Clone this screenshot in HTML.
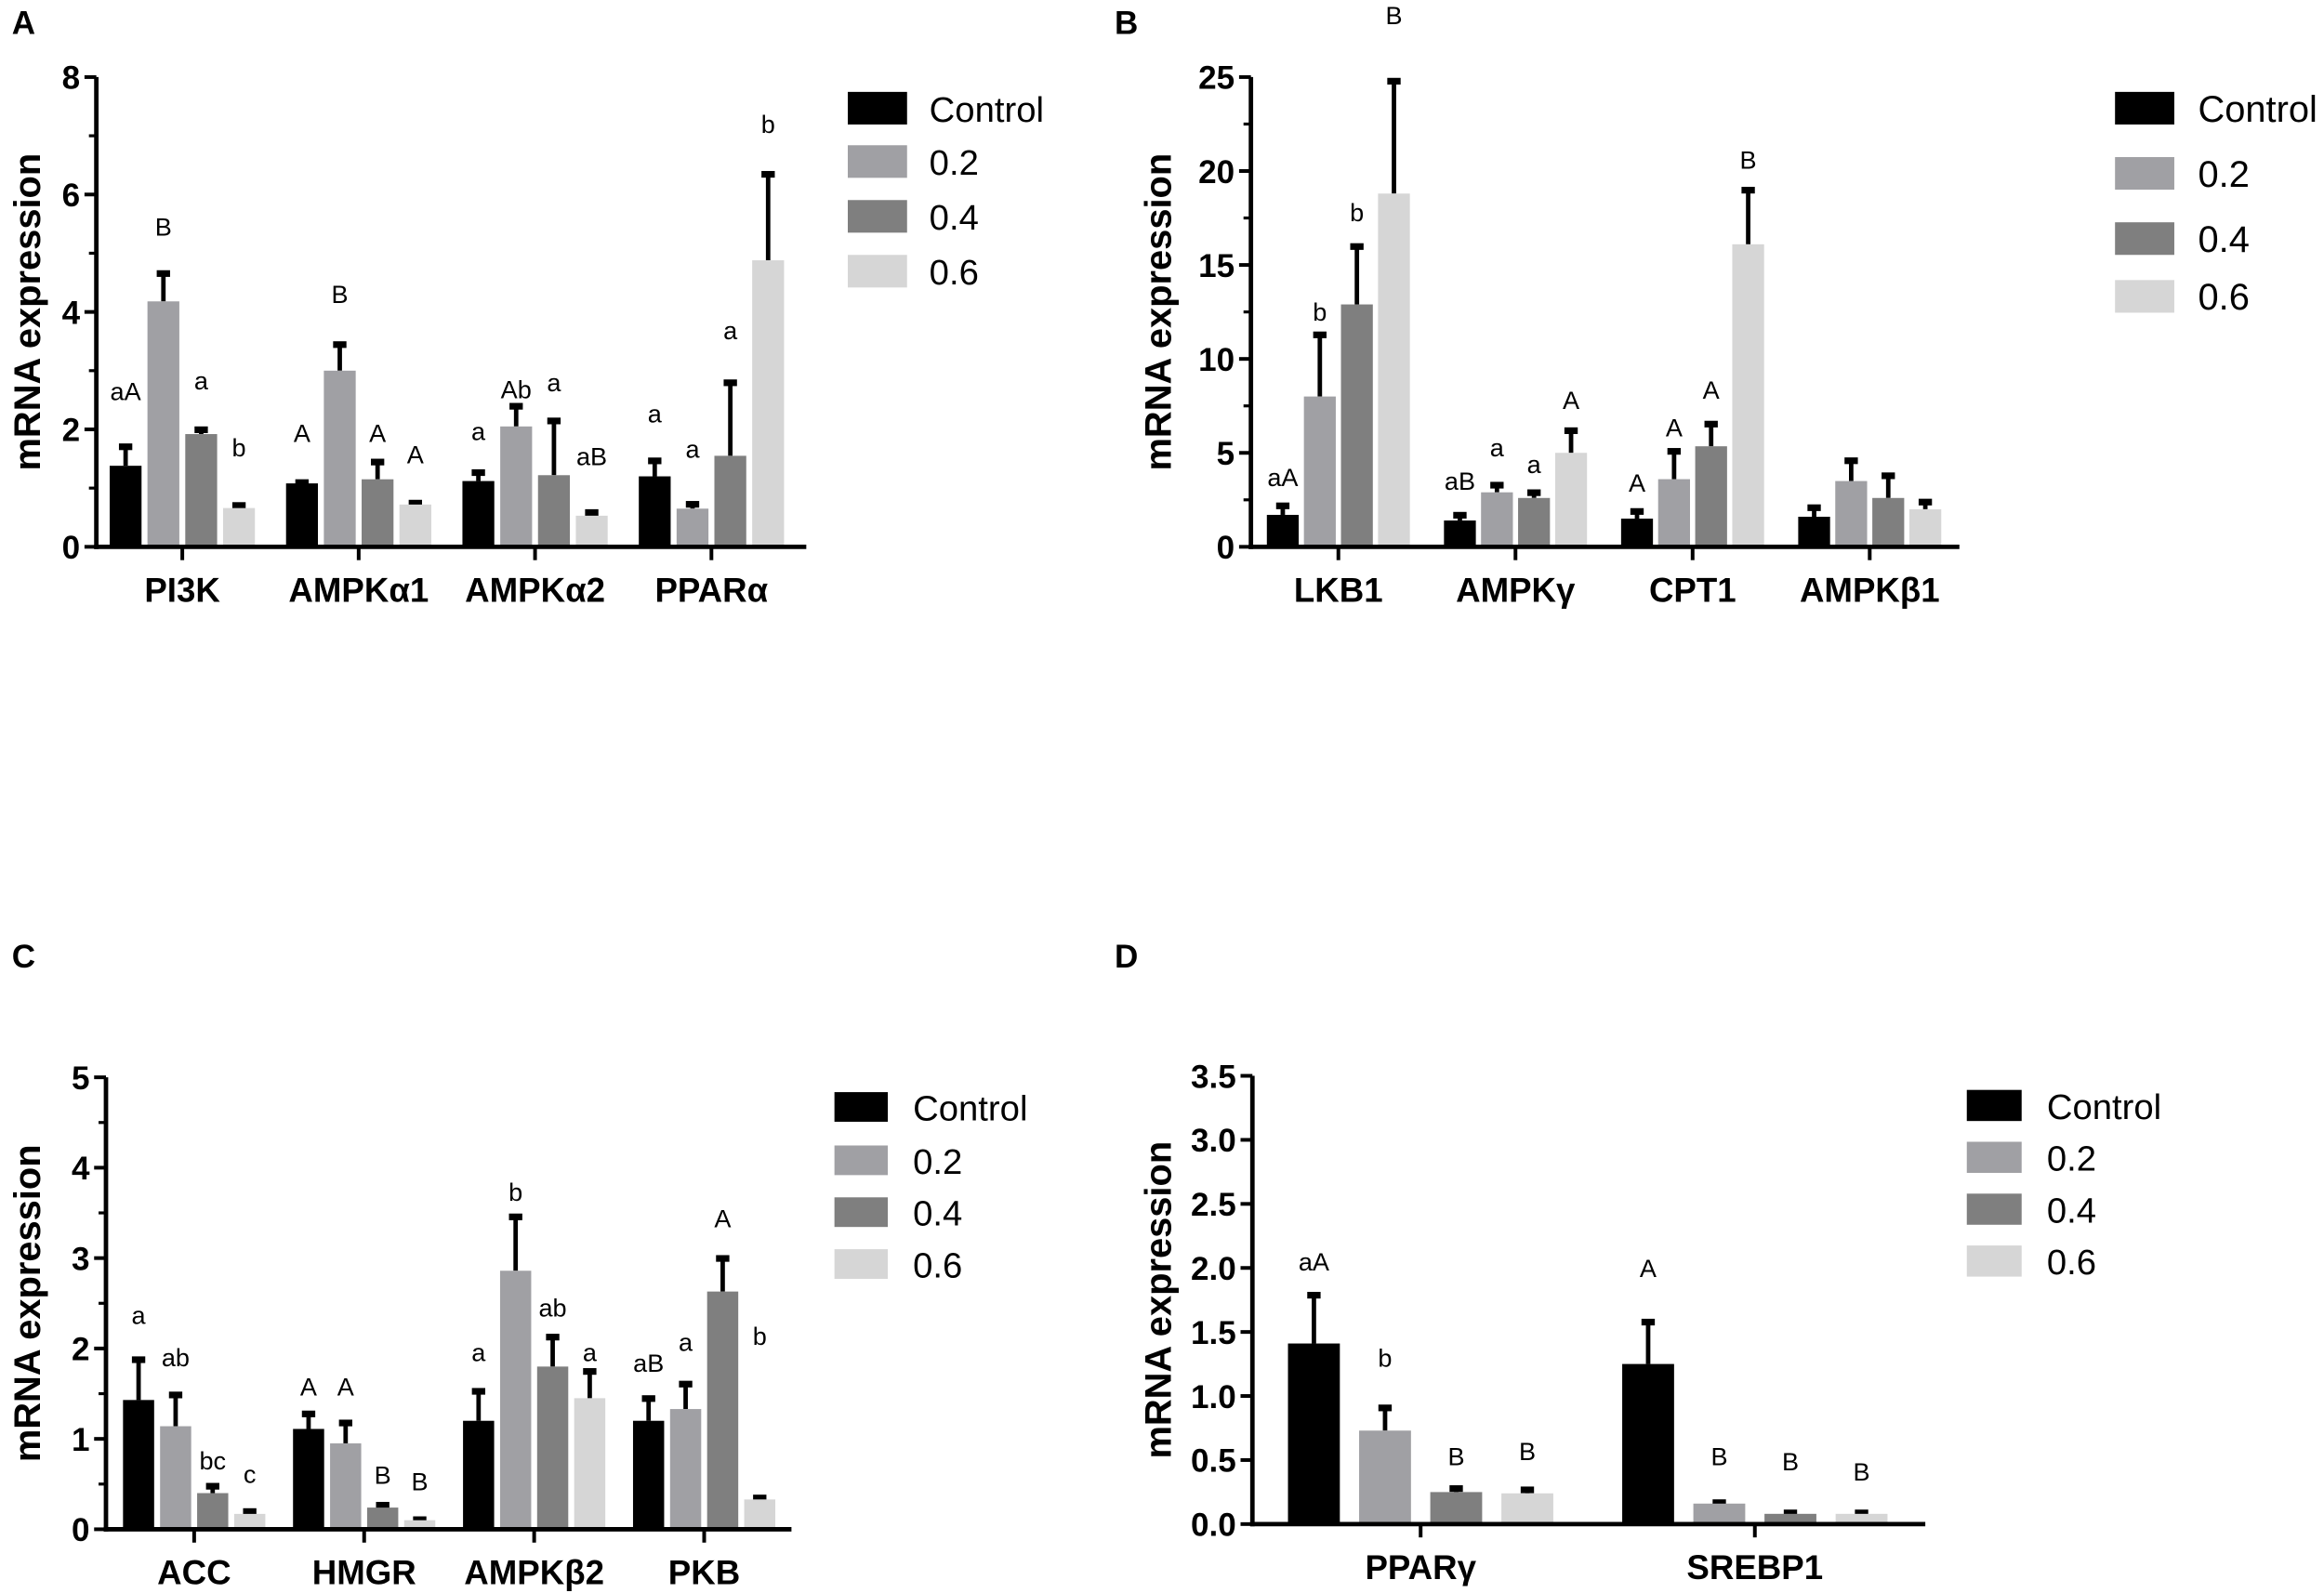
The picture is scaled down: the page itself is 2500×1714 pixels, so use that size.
<!DOCTYPE html>
<html><head><meta charset="utf-8">
<style>
html,body{margin:0;padding:0;background:#fff;}
svg{display:block;}
text{font-family:"Liberation Sans",sans-serif;}
</style></head>
<body>
<svg id="fig" width="2500" height="1714" viewBox="0 0 1568 1075" xmlns="http://www.w3.org/2000/svg"></svg>
<script>
const seriesNames = ["Control","0.2","0.4","0.6"];
const seriesColors = ["#000000","#a0a0a4","#7f7f7f","#d6d6d6"];

// Panel A
const catsA = ["PI3K","AMPKα1","AMPKα2","PPARα"];
const valsA = [[1.38,4.18,1.92,0.66],[1.08,3.0,1.15,0.72],[1.12,2.05,1.22,0.53],[1.2,0.65,1.55,4.88]];
const errsA = [[0.33,0.48,0.08,0.05],[0.02,0.45,0.3,0.03],[0.15,0.35,0.93,0.06],[0.27,0.08,1.25,1.47]];
const letsA = [["aA","B","a","b"],["A","B","A","A"],["a","Ab","a","aB"],["a","a","a","b"]];
const letYA = [[2.65,5.45,2.83,1.69],[1.94,4.3,1.94,1.57],[1.97,2.68,2.8,1.54],[2.27,1.67,3.69,7.2]];
const ticksA = [0,2,4,6,8];
const minorA = [1,3,5,7];

// Panel B
const catsB = ["LKB1","AMPKγ","CPT1","AMPKβ1"];
const valsB = [[1.7,8.0,12.9,18.8],[1.4,2.9,2.6,5.0],[1.5,3.6,5.35,16.1],[1.6,3.5,2.6,2.0]];
const errsB = [[0.5,3.3,3.1,6.0],[0.3,0.4,0.3,1.2],[0.4,1.5,1.2,2.9],[0.5,1.1,1.2,0.4]];
const letsB = [["aA","b","b","B"],["aB","a","a","A"],["A","A","A","B"],["","","",""]];
const letYB = [[3.7,12.5,17.8,28.3],[3.5,5.3,4.4,7.8],[3.4,6.35,8.35,20.6],[0,0,0,0]];
const ticksB = [0,5,10,15,20,25];
const minorB = [2.5,7.5,12.5,17.5,22.5];

// Panel C
const catsC = ["ACC","HMGR","AMPKβ2","PKB"];
const valsC = [[1.43,1.14,0.4,0.17],[1.11,0.95,0.24,0.1],[1.2,2.86,1.8,1.45],[1.2,1.33,2.63,0.33]];
const errsC = [[0.45,0.35,0.08,0.03],[0.17,0.23,0.03,0.01],[0.33,0.6,0.33,0.3],[0.25,0.28,0.37,0.02]];
const letsC = [["a","ab","bc","c"],["A","A","B","B"],["a","b","ab","a"],["aB","a","A","b"]];
const letYC = [[2.37,1.9,0.76,0.61],[1.58,1.58,0.6,0.53],[1.96,3.73,2.45,1.96],[1.84,2.07,3.44,2.14]];
const ticksC = [0,1,2,3,4,5];
const minorC = [0.5,1.5,2.5,3.5,4.5];

// Panel D
const catsD = ["PPARγ","SREBP1"];
const valsD = [[1.41,0.73,0.25,0.24],[1.25,0.16,0.08,0.08]];
const errsD = [[0.38,0.18,0.03,0.03],[0.33,0.01,0.01,0.01]];
const letsD = [["aA","b","B","B"],["A","B","B","B"]];
const letYD = [[2.05,1.3,0.53,0.57],[2.0,0.53,0.49,0.41]];
const ticksD = [0,0.5,1.0,1.5,2.0,2.5,3.0,3.5];
const minorD = [];

const NS = "http://www.w3.org/2000/svg";
const svg = document.getElementById("fig");
function mk(tag, attrs, parent){
  const e = document.createElementNS(NS, tag);
  for (const k in attrs) e.setAttribute(k, attrs[k]);
  (parent||svg).appendChild(e);
  return e;
}

function panel(p){
  const g = mk("g", {});
  
  
  const yS = v => p.y0 - (v / p.ymax) * (p.y0 - p.yTop);
  const xC = i => p.cx0 + i * p.step;

  const pl = mk("text", {x:p.letterX, y:p.letterY, "font-size":22, "font-weight":"bold"}, g);
  pl.textContent = p.id.toUpperCase();
  
  

  p.vals.forEach((grp, ci) => {
    const gw = 4*p.bw + 3*p.gap;
    grp.forEach((v, si) => {
      const x = xC(ci) - gw/2 + si*(p.bw+p.gap);
      const cx = x + p.bw/2;
      const top = v + p.errs[ci][si];
      const l = mk("line", {x1:cx, x2:cx, y1:yS(v), y2:yS(top), stroke:"#000", "stroke-width":3}, g);
      
      
      const cap = mk("rect", {x:cx-4.5, y:yS(top)-2, width:9, height:4.5, fill:"#000"}, g);
      
      
      const r = mk("rect", {x:x, y:yS(v), width:p.bw, height:p.y0 - yS(v), fill:seriesColors[si]}, g);
      
      
      const lt = p.lets[ci][si];
      if (lt){
        const t = mk("text", {x:cx, y:yS(p.letY[ci][si]) + 6, "font-size":17, "text-anchor":"middle"}, g);
        t.textContent = lt;
        
        
      }
    });
    const tk = mk("line", {x1:xC(ci), x2:xC(ci), y1:p.y0, y2:p.y0+9, stroke:"#000", "stroke-width":2.5}, g);
    
    
    const ct = mk("text", {x:xC(ci), y:p.y0+37, "font-size":23, "font-weight":"bold", "text-anchor":"middle"}, g);
    ct.textContent = p.cats[ci];
    
    
  });

  const ya = mk("line", {x1:p.ax, x2:p.ax, y1:p.yTop, y2:p.y0+1.5, stroke:"#000", "stroke-width":3}, g);
  
  
  const xa = mk("line", {x1:p.ax-1.5, x2:p.axEnd, y1:p.y0, y2:p.y0, stroke:"#000", "stroke-width":3}, g);
  
  
  p.ticks.forEach(v => {
    const t = mk("line", {x1:p.ax-8, x2:p.ax, y1:yS(v), y2:yS(v), stroke:"#000", "stroke-width":2.5}, g);
    
    
    const tl = mk("text", {x:p.ax-11, y:yS(v)+8, "font-size":22, "font-weight":"bold", "text-anchor":"end"}, g);
    tl.textContent = p.fmt(v);
    
    
  });
  p.minor.forEach(v => {
    const t = mk("line", {x1:p.ax-5, x2:p.ax, y1:yS(v), y2:yS(v), stroke:"#000", "stroke-width":2}, g);
    
    
  });
  const yt = mk("text", {x:0, y:0, "font-size":25, "font-weight":"bold", "text-anchor":"middle",
     transform:`translate(${p.titleX},${(p.yTop+p.y0)/2}) rotate(-90)`}, g);
  yt.textContent = "mRNA expression";
  
  

  seriesNames.forEach((n, si) => {
    const cy = p.legY[si];
    const sw = mk("rect", {x:p.legX, y:cy-p.legH/2, width:p.legW, height:p.legH, fill:seriesColors[si]}, g);
    
    
    const lt = mk("text", {x:p.legTX, y:cy+9, "font-size":p.legFS}, g);
    lt.textContent = n;
    
    
  });
}

const f0 = v => String(v);
const f1 = v => v.toFixed(1);

panel({id:"a", cats:catsA, vals:valsA, errs:errsA, lets:letsA, letY:letYA, ticks:ticksA, minor:minorA, fmt:f0,
  ymax:8, y0:369, yTop:52, ax:65, axEnd:544, cx0:123, step:119, bw:21.5, gap:4,
  letterX:8, letterY:23, titleX:27,
  legX:572, legW:40, legH:22, legY:[73,109,146,183], legTX:627, legFS:24});
panel({id:"b", cats:catsB, vals:valsB, errs:errsB, lets:letsB, letY:letYB, ticks:ticksB, minor:minorB, fmt:f0,
  ymax:25, y0:369, yTop:52, ax:844, axEnd:1322, cx0:903, step:119.5, bw:21.5, gap:3.5,
  letterX:752, letterY:23, titleX:790,
  legX:1427, legW:40, legH:22, legY:[73,117,161,200], legTX:1483, legFS:25});
panel({id:"c", cats:catsC, vals:valsC, errs:errsC, lets:letsC, letY:letYC, ticks:ticksC, minor:minorC, fmt:f0,
  ymax:5, y0:1032, yTop:727, ax:71.5, axEnd:534, cx0:131, step:114.7, bw:21, gap:4,
  letterX:8, letterY:653, titleX:27,
  legX:563, legW:36, legH:20, legY:[747,783,818,853], legTX:616, legFS:24});
panel({id:"d", cats:catsD, vals:valsD, errs:errsD, lets:letsD, letY:letYD, ticks:ticksD, minor:minorD, fmt:f1,
  ymax:3.5, y0:1028.5, yTop:726, ax:845, axEnd:1299, cx0:958.5, step:225.5, bw:35, gap:13,
  letterX:752, letterY:653, titleX:790,
  legX:1327, legW:37, legH:21, legY:[746,781,816,851], legTX:1381, legFS:24});
</script>
</body></html>
